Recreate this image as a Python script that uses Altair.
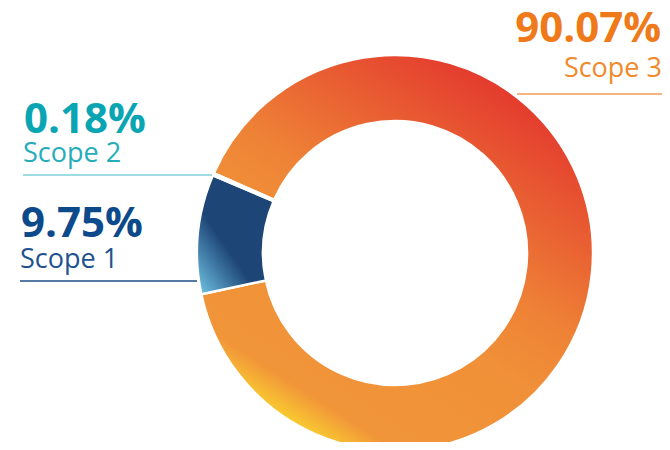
import math
import altair as alt
import pandas as pd

# ---- data ----
scopes = ["Scope 3", "Scope 1", "Scope 2"]
shares = [90.07, 9.75, 0.18]
pct_labels = ["90.07%", "9.75%", "0.18%"]
order = [1, 2, 3]
title_text = "GHG EMISSIONS 2025"

df = pd.DataFrame({"scope": scopes, "share": shares, "pct": pct_labels, "order": order})
title_df = pd.DataFrame({"t": [title_text]})

FONT = "Open Sans"
CX, CY = 387, 245
start = math.radians(293.75)
theta_scale = alt.Scale(domain=[0, 100], range=[start, start + 2 * math.pi])

base = (
    alt.Chart(df)
    .transform_window(cum="sum(share)", sort=[alt.SortField("order")], frame=[None, 0])
    .transform_calculate(start="datum.cum - datum.share")
)


def grad(x1, y1, x2, y2, stops):
    return alt.Gradient(
        gradient="linear", x1=x1, y1=y1, x2=x2, y2=y2,
        stops=[alt.GradientStop(offset=o, color=c) for o, c in stops],
    )


g3 = grad(0.85, 0.05, 0.25, 1.0, [(0, "#E2302D"), (0.45, "#EE8236"), (0.6, "#F09038"), (0.88, "#F19539"), (1, "#FFEC2B")])
g1 = grad(0.65, 0.3, 0.0, 1.0, [(0, "#1D4576"), (0.42, "#1D4576"), (1, "#74C8E8")])
g2 = "#08A3AF"


def arc(scope, fill):
    return (
        base.transform_filter(alt.datum.scope == scope)
        .mark_arc(innerRadius=132, outerRadius=198, fill=fill, stroke="white", strokeWidth=2.5)
        .encode(
            theta=alt.Theta("start:Q", scale=theta_scale),
            theta2="cum:Q",
            x=alt.value(CX),
            y=alt.value(CY),
        )
    )


def label(scope, field, x, y, size, weight, color, align):
    return (
        base.transform_filter(alt.datum.scope == scope)
        .mark_text(font=FONT, fontSize=size, fontWeight=weight, color=color,
                   align=align, baseline="alphabetic")
        .encode(text=f"{field}:N", x=alt.value(x), y=alt.value(y))
    )


def rule(scope, x1, x2, y, color):
    return (
        base.transform_filter(alt.datum.scope == scope)
        .mark_rule(color=color, strokeWidth=1.5)
        .encode(x=alt.value(x1), x2=alt.value(x2), y=alt.value(y))
    )


title = (
    alt.Chart(title_df)
    .mark_text(font=FONT, fontSize=25, fontWeight=400, color="#F08A2A", align="left", baseline="alphabetic")
    .encode(text="t:N", x=alt.value(14), y=alt.value(-3))
)

chart = alt.layer(
    arc("Scope 3", g3),
    arc("Scope 1", g1),
    arc("Scope 2", g2),
    label("Scope 3", "pct", 653, 34, 42, "bold", "#EF7A1A", "right"),
    label("Scope 3", "scope", 654, 69, 27, 400, "#F08A2A", "right"),
    rule("Scope 3", 509, 654, 86, "#F39B53"),
    label("Scope 2", "pct", 16, 125, 42, "bold", "#0AA5B2", "left"),
    label("Scope 2", "scope", 15, 154, 27, 400, "#25ADBA", "left"),
    rule("Scope 2", 15, 204, 167, "#7ECFD8"),
    label("Scope 1", "pct", 13, 229, 42, "bold", "#0D4A8C", "left"),
    label("Scope 1", "scope", 12, 260, 27, 400, "#1E5390", "left"),
    rule("Scope 1", 12, 189, 273, "#1F4E87"),
    title,
).properties(
    width=654, height=434, padding=0, autosize=alt.AutoSizeParams(type="none")
).configure_view(stroke=None)

chart.save("out.html", embed_options={"renderer": "svg", "actions": False})
